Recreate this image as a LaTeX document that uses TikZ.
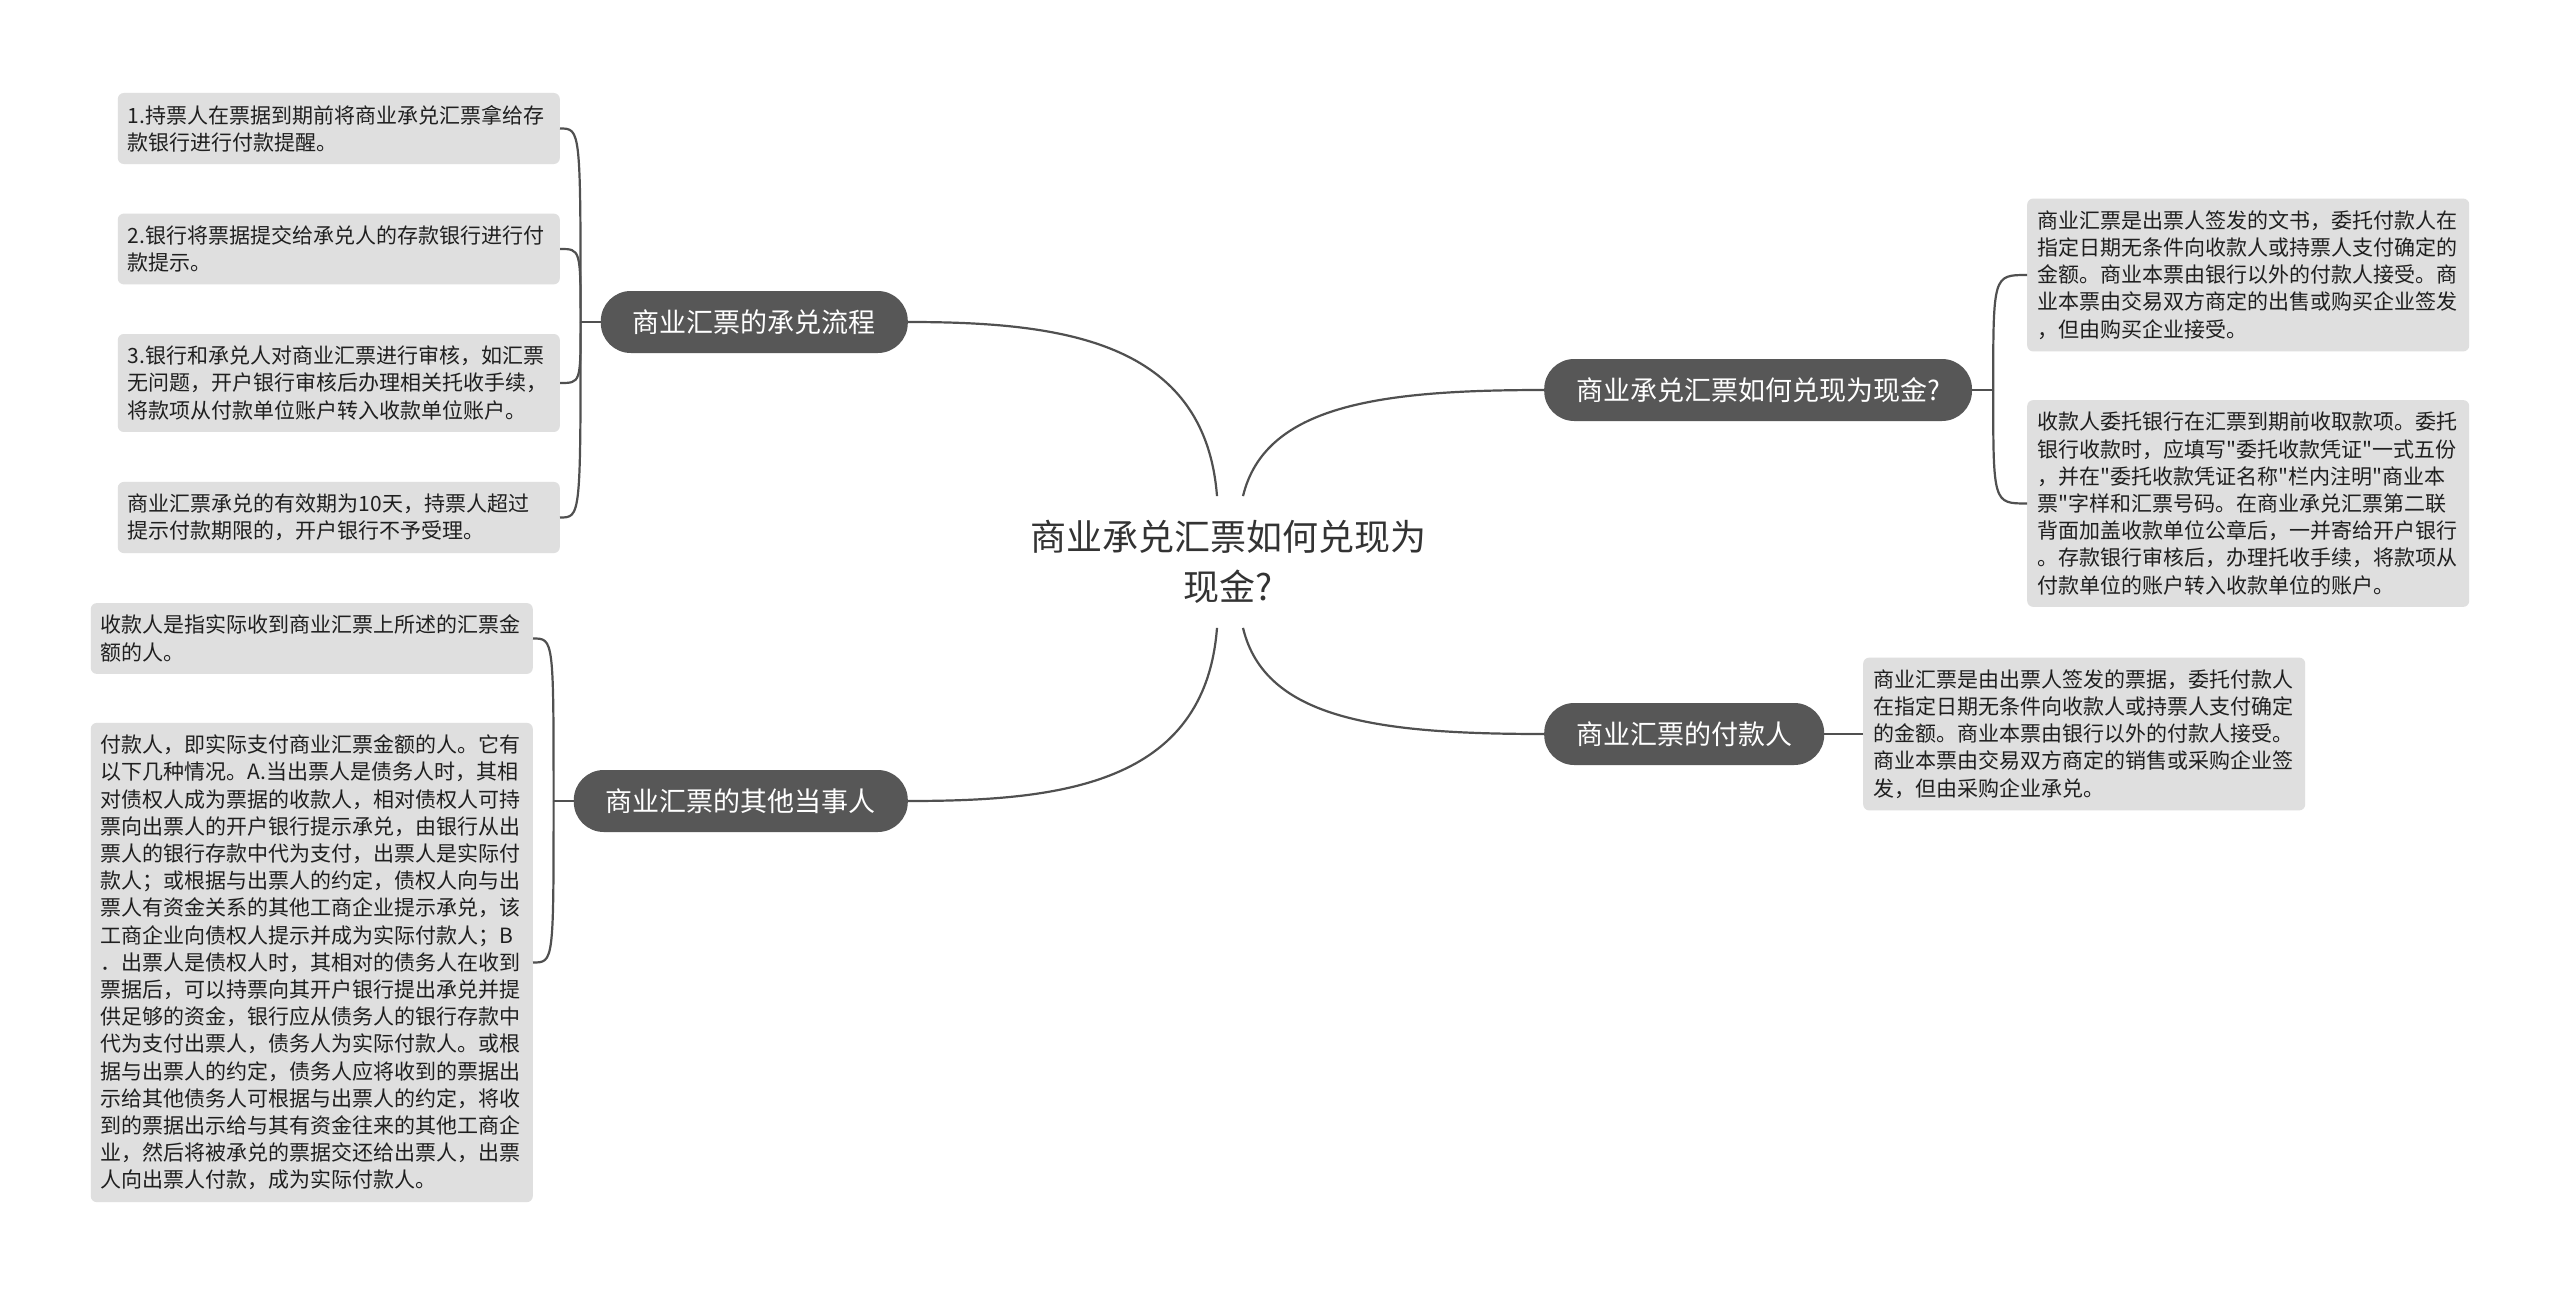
\documentclass[tikz,border=0pt]{standalone}
\usepackage{fontspec}
\setmainfont{Noto Sans CJK SC}[Ligatures=TeXOff]

\definecolor{topicgray}{RGB}{87,87,87}
\definecolor{leafgray}{RGB}{223,223,223}
\definecolor{linegray}{RGB}{80,80,80}
\definecolor{rootgray}{RGB}{51,51,51}

\begin{document}
\begin{tikzpicture}[x=1pt,y=-1pt,
  root/.style={align=center,text=rootgray,inner xsep=0pt,inner ysep=24pt,
    font=\fontsize{36}{50}\selectfont},
  topic/.style={fill=topicgray,text=white,rounded corners=30pt,minimum height=62pt,
    inner xsep=32pt,inner ysep=0pt,font=\fontsize{27}{32}\selectfont},
  leaf/.style={fill=leafgray,text=black!88,rounded corners=6pt,text width=422pt,
    align=left,inner xsep=10pt,inner ysep=12pt,font=\fontsize{21}{27.2}\selectfont},
  link/.style={draw=linegray,line width=2.2pt}]

\fill[white] (0,0) rectangle (2560,1295);
\useasboundingbox (0,0) rectangle (2560,1295);

% centre
\node[root] (root) at (1228,562) {商业承兑汇票如何兑现为\\现金?};

\coordinate (rnw) at ([xshift=-11pt]root.north);
\coordinate (rne) at ([xshift=15pt]root.north);
\coordinate (rsw) at ([xshift=-11pt]root.south);
\coordinate (rse) at ([xshift=15pt]root.south);

% main branches
\node[topic,anchor=east] (t1) at (908,322) {商业汇票的承兑流程};
\node[topic,anchor=east] (t2) at (908,801) {商业汇票的其他当事人};
\node[topic,anchor=west] (t3) at (1544,390) {商业承兑汇票如何兑现为现金?};
\node[topic,anchor=west] (t4) at (1544,734) {商业汇票的付款人};

\draw[link] (rnw) .. controls (1205,340) and (1060,322) .. (t1.east);
\draw[link] (rsw) .. controls (1205,785) and (1060,801) .. (t2.east);
\draw[link] (rne) .. controls (1265,405) and (1380,390) .. (t3.west);
\draw[link] (rse) .. controls (1265,720) and (1380,734) .. (t4.west);

% left, upper
\node[leaf,anchor=east] (b1) at (560,128.5)
  {1.持票人在票据到期前将商业承兑汇票拿给存\\款银行进行付款提醒。};
\node[leaf,anchor=east] (b2) at (560,249)
  {2.银行将票据提交给承兑人的存款银行进行付\\款提示。};
\node[leaf,anchor=east] (b3) at (560,383)
  {3.银行和承兑人对商业汇票进行审核，如汇票\\无问题，开户银行审核后办理相关托收手续，\\将款项从付款单位账户转入收款单位账户。};
\node[leaf,anchor=east] (b4) at (560,517.5)
  {商业汇票承兑的有效期为10天，持票人超过\\提示付款期限的，开户银行不予受理。};

\coordinate (j1) at ([xshift=-20pt]t1.west);
\draw[link] (t1.west) -- (j1);
\foreach \b in {b1,b2,b3,b4}
  \draw[link] (j1) .. controls (j1 |- \b.east) .. (\b.east);

% left, lower
\node[leaf,anchor=east] (b5) at (533,638.5)
  {收款人是指实际收到商业汇票上所述的汇票金\\额的人。};
\node[leaf,anchor=east] (b6) at (533,962.5)
  {付款人，即实际支付商业汇票金额的人。它有\\
   以下几种情况。A.当出票人是债务人时，其相\\
   对债权人成为票据的收款人，相对债权人可持\\
   票向出票人的开户银行提示承兑，由银行从出\\
   票人的银行存款中代为支付，出票人是实际付\\
   款人；或根据与出票人的约定，债权人向与出\\
   票人有资金关系的其他工商企业提示承兑，该\\
   工商企业向债权人提示并成为实际付款人；B\\
   ．出票人是债权人时，其相对的债务人在收到\\
   票据后，可以持票向其开户银行提出承兑并提\\
   供足够的资金，银行应从债务人的银行存款中\\
   代为支付出票人，债务人为实际付款人。或根\\
   据与出票人的约定，债务人应将收到的票据出\\
   示给其他债务人可根据与出票人的约定，将收\\
   到的票据出示给与其有资金往来的其他工商企\\
   业，然后将被承兑的票据交还给出票人，出票\\
   人向出票人付款，成为实际付款人。};

\coordinate (j2) at ([xshift=-20pt]t2.west);
\draw[link] (t2.west) -- (j2);
\foreach \b in {b5,b6}
  \draw[link] (j2) .. controls (j2 |- \b.east) .. (\b.east);

% right, upper
\node[leaf,anchor=west] (b7) at (2027,275)
  {商业汇票是出票人签发的文书，委托付款人在\\指定日期无条件向收款人或持票人支付确定的\\金额。商业本票由银行以外的付款人接受。商\\业本票由交易双方商定的出售或购买企业签发\\，但由购买企业接受。};
\node[leaf,anchor=west] (b8) at (2027,503.5)
  {收款人委托银行在汇票到期前收取款项。委托\\银行收款时，应填写"委托收款凭证"一式五份\\，并在"委托收款凭证名称"栏内注明"商业本\\票"字样和汇票号码。在商业承兑汇票第二联\\背面加盖收款单位公章后，一并寄给开户银行\\。存款银行审核后，办理托收手续，将款项从\\付款单位的账户转入收款单位的账户。};

\coordinate (j3) at ([xshift=21pt]t3.east);
\draw[link] (t3.east) -- (j3);
\foreach \b in {b7,b8}
  \draw[link] (j3) .. controls (j3 |- \b.west) .. (\b.west);

% right, lower
\node[leaf,anchor=west] (b9) at (1863,734)
  {商业汇票是由出票人签发的票据，委托付款人\\在指定日期无条件向收款人或持票人支付确定\\的金额。商业本票由银行以外的付款人接受。\\商业本票由交易双方商定的销售或采购企业签\\发，但由采购企业承兑。};

\draw[link] (t4.east) -- (b9.west);

\end{tikzpicture}
\end{document}
